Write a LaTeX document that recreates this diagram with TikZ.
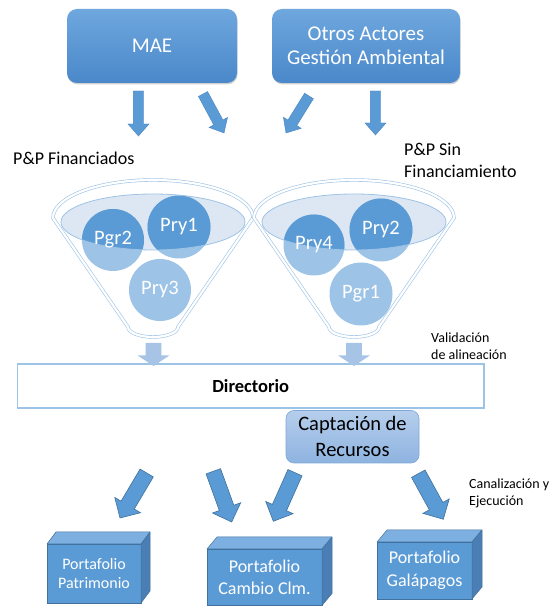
\documentclass[tikz,border=0pt]{standalone}
\usepackage{fontspec}
\setmainfont{Carlito}
\usetikzlibrary{calc,shadows}
\definecolor{boxtop}{HTML}{6FA7DE}
\definecolor{boxbot}{HTML}{4A88CA}
\definecolor{arrowblue}{HTML}{5B9BD5}
\definecolor{arrowedge}{HTML}{4A84C0}
\definecolor{lightarrow}{HTML}{A7C3E6}
\definecolor{funnelblue}{HTML}{9DC3E6}
\definecolor{ellfill}{HTML}{DDE7F3}
\definecolor{circlight}{HTML}{9DC3E6}
\definecolor{circdark}{HTML}{5B9BD5}
\definecolor{captop}{HTML}{B6CEEC}
\definecolor{capbot}{HTML}{8EB3E0}
\definecolor{capedge}{HTML}{7FA8D8}
\definecolor{cubefrontc}{HTML}{5B9BD5}
\definecolor{cubetopc}{HTML}{7DB0E0}
\definecolor{cubesidec}{HTML}{4A7EB4}
\definecolor{cubeedge}{HTML}{41719C}

\tikzset{
 topbox/.style={rounded corners=10pt, top color=boxtop, bottom color=boxbot, text=white,
   font=\fontsize{21}{24}\selectfont, align=center, inner sep=0pt,
   drop shadow={shadow xshift=0.6pt, shadow yshift=-1.4pt, opacity=0.3, fill=black!60}},
 toparrowstyle/.style={fill=arrowblue, draw=arrowedge, line width=0.4pt},
 bigarrowstyle/.style={fill=arrowblue, draw=cubeedge, line width=0.6pt},
 lightarrowstyle/.style={fill=lightarrow},
 funnelline/.style={draw=funnelblue, line width=0.6pt, double=white, double distance=2.2pt},
 circbase/.style={circle, inner sep=0pt, fill=circlight},
 circtext/.style={text=white, font=\fontsize{20.5}{24}\selectfont, inner sep=0pt},
 label18/.style={font=\fontsize{18}{22.5}\selectfont, align=left, inner sep=0pt},
 smalllabel/.style={font=\fontsize{14}{17.5}\selectfont, align=left, inner sep=0pt},
 dirbox/.style={draw=funnelblue, line width=1.1pt, fill=white, inner sep=0pt,
   font=\fontsize{18.5}{20}\selectfont\bfseries},
 capbox/.style={rounded corners=8pt, top color=captop, bottom color=capbot, draw=capedge,
   line width=0.6pt, align=center, inner sep=0pt, font=\fontsize{20.5}{26}\selectfont},
 cubeface/.style={fill=cubefrontc, draw=cubeedge, line width=0.5pt, inner sep=0pt, outer sep=0pt},
 cubeedgestyle/.style={draw=cubeedge, line width=0.5pt, line join=round},
 cubetext/.style={text=white, align=center, inner sep=0pt}
}

% block arrow: #1 style, (#2,#3) start, (#4,#5) tip, #6 shaft half width, #7 head half width, #8 head length
\newcommand\blkarrow[8]{%
  \pgfmathsetmacro\bkAng{atan2(#5-#3,#4-#2)}%
  \pgfmathsetmacro\bkLen{veclen(#4-#2,#5-#3)}%
  \pgfmathsetmacro\bkBase{\bkLen-#8}%
  \path[#1,shift={(#2,#3)},rotate=\bkAng] (0,-#6) -- (\bkBase,-#6) -- (\bkBase,-#7)
     -- (\bkLen,0) -- (\bkBase,#7) -- (\bkBase,#6) -- (0,#6) -- cycle;}

% cube: #1 name, (#2,#3) south west, #4 width, #5 height, #6 dx, #7 dy, #8 font, #9 text
\newcommand\pcube[9]{%
  \node[cubeface, minimum width=#4pt, minimum height=#5pt, anchor=south west] (#1) at (#2,#3) {};
  \filldraw[cubeedgestyle, fill=cubetopc] (#1.north west) -- ++(#6,#7) -- ($(#1.north east)+(#6,#7)$) -- (#1.north east) -- cycle;
  \filldraw[cubeedgestyle, fill=cubesidec] (#1.north east) -- ++(#6,#7) -- ($(#1.south east)+(#6,#7)$) -- (#1.south east) -- cycle;
  \node[cubetext, font=#8] (#1t) at (#1.center) {#9};}

% funnel outline: #1 centre x
\newcommand\funnelshape[1]{%
  \draw[funnelline, fill=white] (#1-100,388) arc[start angle=180, end angle=0, x radius=100pt, y radius=38pt]
    -- (#1+25,279) arc[start angle=0, end angle=-180, x radius=25pt, y radius=10pt] -- cycle;}

\begin{document}
\begin{tikzpicture}[x=1pt,y=1pt]
\useasboundingbox (0,0) rectangle (550,606);

% top boxes
\node[topbox, minimum width=170pt, minimum height=74pt] (mae) at (152,560) {MAE};
\node[topbox, minimum width=188pt, minimum height=74pt] (otros) at (366,560) {Otros Actores\\Gestión Ambiental};

% top arrows
\blkarrow{toparrowstyle}{138.5}{515}{138.5}{470}{5.2}{10.5}{12}
\blkarrow{toparrowstyle}{203}{512}{224}{473}{5.2}{10.5}{12}
\blkarrow{toparrowstyle}{309}{510}{286}{473}{5.2}{10.5}{12}
\blkarrow{toparrowstyle}{375.5}{515}{375.5}{471}{5.2}{10.5}{12}

% labels
\node[label18, anchor=west] (lfin) at (13,448) {P\&P Financiados};
\node[label18, anchor=west] (lsin) at (404,445.5) {P\&P Sin\\Financiamiento};

% funnels
\funnelshape{153}
\funnelshape{354}
\fill[ellfill] (153,384) ellipse[x radius=92pt, y radius=28pt];
\fill[ellfill] (354,384) ellipse[x radius=92pt, y radius=28pt];

% circles
\node[circbase, minimum size=62pt] (pgr2) at (113,366) {};
\node[circbase, minimum size=63pt] (pry1) at (179,379) {};
\node[circbase, minimum size=62pt] (pry3) at (160,316) {};
\node[circbase, minimum size=61pt] (pry4) at (314,361) {};
\node[circbase, minimum size=63pt] (pry2) at (381,376) {};
\node[circbase, minimum size=63pt] (pgr1) at (361,312) {};
\begin{scope}
  \clip (153,384) ellipse[x radius=92pt, y radius=28pt];
  \fill[circdark] (pgr2.center) circle[radius=31pt];
  \fill[circdark] (pry1.center) circle[radius=31.5pt];
\end{scope}
\begin{scope}
  \clip (354,384) ellipse[x radius=92pt, y radius=28pt];
  \fill[circdark] (pry4.center) circle[radius=30.5pt];
  \fill[circdark] (pry2.center) circle[radius=31.5pt];
\end{scope}
\draw[funnelblue, line width=0.8pt] (153,384) ellipse[x radius=92pt, y radius=28pt];
\draw[funnelblue, line width=0.8pt] (354,384) ellipse[x radius=92pt, y radius=28pt];
\node[circtext] (tpgr2) at (pgr2) {Pgr2};
\node[circtext] (tpry1) at (pry1) {Pry1};
\node[circtext] (tpry3) at (pry3) {Pry3};
\node[circtext] (tpry4) at (pry4) {Pry4};
\node[circtext] (tpry2) at (pry2) {Pry2};
\node[circtext] (tpgr1) at (pgr1) {Pgr1};

% directorio
\node[dirbox, minimum width=466.5pt, minimum height=44pt] (dir) at (250.75,220) {Directorio};
\blkarrow{lightarrowstyle}{153.5}{263}{153.5}{240}{7.8}{15.8}{10.5}
\blkarrow{lightarrowstyle}{354}{263}{354}{240}{7.8}{15.8}{10.5}
\node[smalllabel, anchor=west] (valid) at (431,259.75) {Validación\\de alineación};

% captacion
\node[capbox, minimum width=133pt, minimum height=52.5pt] (cap) at (352.5,169.25) {Captación de\\Recursos};

% bottom arrows
\blkarrow{bigarrowstyle}{146.7}{133}{120}{88}{7.7}{15}{15}
\blkarrow{bigarrowstyle}{213.3}{134.7}{231.7}{84}{7.7}{15}{15}
\blkarrow{bigarrowstyle}{295}{133.3}{273.3}{84.7}{7.7}{15}{15}
\blkarrow{bigarrowstyle}{418.3}{132.3}{443.3}{86.7}{7.7}{15}{15}
\node[smalllabel, anchor=west] (canal) at (469,112.5) {Canalización y\\Ejecución};

% portfolios
\pcube{pat}{47}{3}{94}{59}{9}{12}{\fontsize{16}{19}\selectfont}{Portafolio\\Patrimonio}
\pcube{cam}{207}{0.5}{115}{56.5}{10}{12}{\fontsize{18}{22.5}\selectfont}{Portafolio\\Cambio Clm.}
\pcube{gal}{377}{7}{95}{57}{10}{12}{\fontsize{18}{23}\selectfont}{Portafolio\\Galápagos}
\end{tikzpicture}
\end{document}
